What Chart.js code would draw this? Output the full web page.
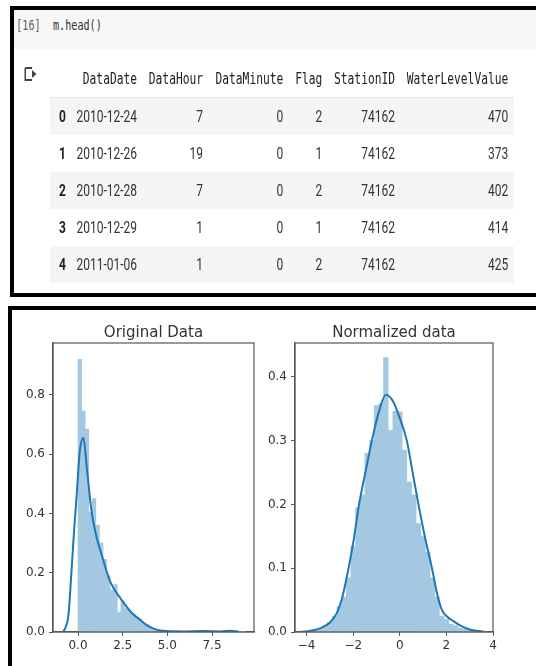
<!DOCTYPE html>
<html lang="en">
<head>
  <meta charset="UTF-8">
  <title>m.head() and distributions</title>
  <script src="https://cdn.jsdelivr.net/npm/chart.js"></script>
  <style>
    html, body { margin: 0; padding: 0; background: #fff; }
    body { width: 536px; height: 666px; position: relative; overflow: hidden; font-family: Roboto, "Noto Sans", sans-serif; }
    #topBox {
      position: absolute; left: 10px; top: 6px; width: 580px; height: 283px;
      border: 4px solid #000; background: #fff; overflow: hidden;
    }
    #cell {
      position: absolute; left: 0; top: 0; width: 760px; height: 283px;
      transform: scaleX(0.75); transform-origin: 0 0;
    }
    #codeBar { position: absolute; left: 0; top: 0; width: 760px; height: 40px; background: #f7f7f7; }
    #prompt { position: absolute; left: 3px; top: 7px; font: 13.5px "DejaVu Sans Mono", monospace; color: #616161; }
    #code { position: absolute; left: 52px; top: 7px; font: 13.5px "DejaVu Sans Mono", monospace; color: #333; }
    #outIcon { position: absolute; left: 13px; top: 56px; }
    #headTable {
      position: absolute; left: 48px; top: 50px; width: 619px;
      border-collapse: collapse; table-layout: fixed;
    }
    #headTable th, #headTable td { height: 37px; padding: 0 8px 0 0; text-align: right; white-space: nowrap; }
    #headTable th { font: 15px "DejaVu Sans Mono", monospace; color: #212121; font-weight: normal; border-bottom: 1px solid #e4e4e4; }
    #headTable td { font-size: 16px; color: #333; }
    #headTable td.idx { text-align: left; padding-left: 12px; font-weight: bold; color: #222; }
    #headTable tbody tr:nth-child(odd) { background: #f5f5f5; }
    #bottomBox {
      position: absolute; left: 8px; top: 306px; width: 600px; height: 400px;
      border-left: 4px solid #000; border-top: 4px solid #000;
    }
    .plot { position: absolute; top: 312px; }
  </style>
</head>
<body>

<div id="topBox">
  <div id="cell">
    <div id="codeBar"></div>
    <div id="prompt">[16]</div>
    <div id="code">m.head()</div>
    <svg id="outIcon" width="20" height="16" viewBox="0 0 20 16">
      <path d="M2 2 H11 M2 2 V14 H11" stroke="#444" stroke-width="2" fill="none"/>
      <path d="M11 4 L17 8 L11 12 Z" fill="#444"/>
    </svg>
    <table id="headTable">
      <colgroup>
        <col style="width:32px"><col style="width:92px"><col style="width:88px">
        <col style="width:107px"><col style="width:52px"><col style="width:97px"><col style="width:151px">
      </colgroup>
      <thead><tr id="headRow"><th></th></tr></thead>
      <tbody id="headBody"></tbody>
    </table>
  </div>
</div>

<div id="bottomBox"></div>
<canvas id="origChart" class="plot" width="246" height="354" style="left:14px"></canvas>
<canvas id="normChart" class="plot" width="246" height="354" style="left:262px"></canvas>

<script>
// ---- table data (m.head()) ----
const tableColumns = ['DataDate', 'DataHour', 'DataMinute', 'Flag', 'StationID', 'WaterLevelValue'];
const rowIndex = [0, 1, 2, 3, 4];
const dataDate = ['2010-12-24', '2010-12-26', '2010-12-28', '2010-12-29', '2011-01-06'];
const dataHour = [7, 19, 7, 1, 1];
const dataMinute = [0, 0, 0, 0, 0];
const flagValues = [2, 1, 2, 1, 2];
const stationId = [74162, 74162, 74162, 74162, 74162];
const waterLevel = [470, 373, 402, 414, 425];

// ---- "Original Data" histogram (bin centers, width 0.2) + kde ----
const origBinCenters = [0.1, 0.3, 0.5, 0.7, 0.9, 1.1, 1.3, 1.5, 1.7, 1.9, 2.1, 2.3, 2.5, 2.7, 2.9, 3.1,
  3.3, 3.5, 3.7, 3.9, 4.1, 4.3, 4.5, 4.7, 4.9, 5.1, 5.3, 5.5, 5.7, 5.9, 6.1, 6.3, 6.5, 6.7, 6.9,
  7.1, 7.3, 7.5, 7.7, 7.9, 8.1, 8.3, 8.5, 8.7, 8.9, 9.1, 9.3];
const origDensity = [0.92, 0.745, 0.685, 0.405, 0.45, 0.36, 0.30, 0.245, 0.19, 0.142, 0.16, 0.067, 0.105, 0.08, 0.07, 0.06,
  0.05, 0.04, 0.03, 0.025, 0.012, 0.006, 0.005, 0.004, 0.003, 0.002, 0.002, 0.003, 0.002, 0.002, 0.002, 0.001, 0.002, 0.002, 0.003,
  0.002, 0.002, 0.001, 0.002, 0.002, 0.001, 0.002, 0.003, 0.002, 0.001, 0.001, 0.001];
const origKdeX = [-0.85, -0.7, -0.53, -0.35, -0.2, -0.1, 0.1, 0.3, 0.5, 0.75, 1.0, 1.4, 1.8, 2.3, 3.0, 3.5, 3.8, 4.2, 4.6, 5.0, 6.0, 7.0, 8.0, 8.5, 9.0];
const origKdeY = [0.0, 0.015, 0.06, 0.22, 0.36, 0.44, 0.61, 0.655, 0.55, 0.41, 0.33, 0.245, 0.17, 0.12, 0.065, 0.04, 0.025, 0.012, 0.005, 0.003, 0.002, 0.003, 0.002, 0.004, 0.001];
const origXTicks = [0, 2.5, 5, 7.5];
const origYTicks = [0, 0.2, 0.4, 0.6, 0.8];

// ---- "Normalized data" histogram (bin centers, width 0.2) + kde ----
const normBinCenters = [-4.2, -4.0, -3.8, -3.6, -3.4, -3.2, -3.0, -2.8, -2.6, -2.4, -2.2, -2.0, -1.8, -1.6, -1.4, -1.2,
  -1.0, -0.8, -0.6, -0.4, -0.2, 0.0, 0.2, 0.4, 0.6, 0.8, 1.0, 1.2, 1.4, 1.6, 1.8, 2.0, 2.2, 2.4, 2.6, 2.8, 3.0, 3.2, 3.4, 3.6];
const normDensity = [0.002, 0.002, 0.003, 0.004, 0.006, 0.01, 0.015, 0.025, 0.04, 0.055, 0.085, 0.135, 0.195, 0.215, 0.28, 0.30,
  0.355, 0.358, 0.43, 0.316, 0.346, 0.345, 0.285, 0.235, 0.215, 0.17, 0.15, 0.125, 0.085, 0.055, 0.025, 0.02, 0.012, 0.01, 0.006, 0.004, 0.003, 0.002, 0.002, 0.001];
const normKdeX = [-4.25, -3.8, -3.4, -3.0, -2.7, -2.5, -2.2, -2.0, -1.75, -1.45, -1.2, -0.9, -0.6, -0.3, 0.0, 0.3, 0.55, 0.8, 1.1, 1.38, 1.6, 1.8, 2.0, 2.3, 2.6, 3.0, 3.3, 3.65];
const normKdeY = [0.0, 0.002, 0.006, 0.015, 0.03, 0.05, 0.1, 0.14, 0.2, 0.255, 0.3, 0.345, 0.372, 0.362, 0.335, 0.3, 0.25, 0.2, 0.145, 0.1, 0.06, 0.035, 0.025, 0.017, 0.01, 0.004, 0.002, 0.0];
const normXTicks = [-4, -2, 0, 2, 4];
const normYTicks = [0, 0.1, 0.2, 0.3, 0.4];

// build the table
const headRow = document.getElementById('headRow');
tableColumns.forEach(c => {
  const th = document.createElement('th');
  th.textContent = c;
  headRow.appendChild(th);
});
const body = document.getElementById('headBody');
rowIndex.forEach((r, i) => {
  const tr = document.createElement('tr');
  const cells = [r, dataDate[i], dataHour[i], dataMinute[i], flagValues[i], stationId[i], waterLevel[i]];
  cells.forEach((v, j) => {
    const td = document.createElement('td');
    if (j === 0) td.className = 'idx';
    td.textContent = v;
    tr.appendChild(td);
  });
  body.appendChild(tr);
});

// charts
Chart.defaults.font.family = '"DejaVu Sans", sans-serif';
Chart.defaults.font.size = 12;
Chart.defaults.color = '#333';

const spineColor = '#555';

// title over the axes + top/right spines (matplotlib look)
const axesFrame = {
  id: 'axesFrame',
  afterDraw(chart, args, opts) {
    const { ctx, chartArea: a } = chart;
    ctx.save();
    ctx.strokeStyle = spineColor;
    ctx.lineWidth = 1.2;
    ctx.strokeRect(a.left, a.top, a.right - a.left, a.bottom - a.top);
    ctx.font = '15px "DejaVu Sans", sans-serif';
    ctx.fillStyle = '#333';
    ctx.textAlign = 'center';
    ctx.textBaseline = 'alphabetic';
    ctx.fillText(opts.text, (a.left + a.right) / 2, a.top - 6);
    ctx.restore();
  }
};

function fmtMinus(v) {
  return v < 0 ? '\u2212' + Math.abs(v) : String(v);
}

function makeChart(id, cfg) {
  const points = cfg.centers.map((c, i) => ({ x: c, y: cfg.density[i] }));
  const kde = cfg.kdeX.map((x, i) => ({ x: x, y: cfg.kdeY[i] }));
  return new Chart(document.getElementById(id), {
    type: 'bar',
    data: {
      datasets: [
        {
          type: 'line', data: kde, borderColor: '#1f77b4', borderWidth: 2,
          pointRadius: 0, fill: false, cubicInterpolationMode: 'monotone', order: 0
        },
        {
          type: 'bar', data: points, backgroundColor: '#a4c8e1', borderWidth: 0,
          barPercentage: 1, categoryPercentage: 1, order: 1
        }
      ]
    },
    options: {
      responsive: false,
      animation: false,
      layout: { padding: { top: 31, right: cfg.padRight, left: 0, bottom: 0 } },
      plugins: { legend: { display: false }, tooltip: { enabled: false }, axesFrame: { text: cfg.title } },
      scales: {
        x: {
          type: 'linear', min: cfg.xMin, max: cfg.xMax, offset: false,
          afterBuildTicks: ax => { ax.ticks = cfg.xTicks.map(v => ({ value: v })); },
          afterFit: ax => { ax.height = 34; },
          ticks: { callback: cfg.xFmt, padding: 3, maxRotation: 0, autoSkip: false, color: '#333' },
          grid: { display: true, drawOnChartArea: false, drawTicks: true, tickLength: 4, color: spineColor, offset: false },
          border: { display: true, color: spineColor, width: 1.2 }
        },
        y: {
          type: 'linear', min: 0, max: cfg.yMax,
          afterBuildTicks: ax => { ax.ticks = cfg.yTicks.map(v => ({ value: v })); },
          afterFit: ax => { ax.width = cfg.yWidth; },
          ticks: { callback: v => v.toFixed(1), padding: 4, autoSkip: false, color: '#333' },
          grid: { display: true, drawOnChartArea: false, drawTicks: true, tickLength: 4, color: spineColor },
          border: { display: true, color: spineColor, width: 1.2 }
        }
      }
    },
    plugins: [axesFrame]
  });
}

makeChart('origChart', {
  title: 'Original Data',
  centers: origBinCenters, density: origDensity, kdeX: origKdeX, kdeY: origKdeY,
  xMin: -1.4, xMax: 9.85, yMax: 0.975,
  xTicks: origXTicks, yTicks: origYTicks,
  xFmt: v => v.toFixed(1),
  yWidth: 39, padRight: 6
});

makeChart('normChart', {
  title: 'Normalized data',
  centers: normBinCenters, density: normDensity, kdeX: normKdeX, kdeY: normKdeY,
  xMin: -4.5, xMax: 4.0, yMax: 0.453,
  xTicks: normXTicks, yTicks: normYTicks,
  xFmt: fmtMinus,
  yWidth: 33, padRight: 15
});
</script>
</body>
</html>
